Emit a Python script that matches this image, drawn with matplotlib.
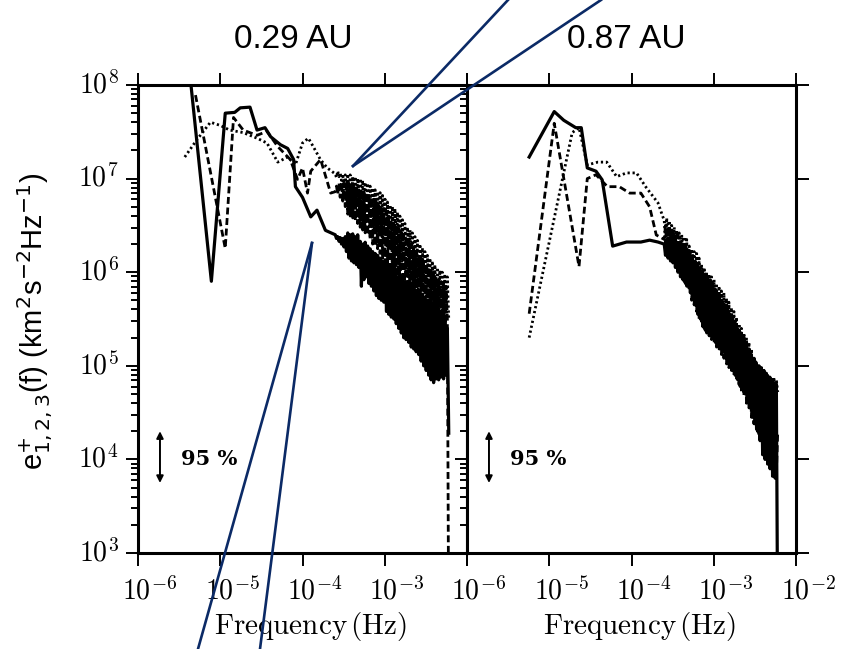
import numpy as np
import matplotlib
matplotlib.use('Agg')
import matplotlib.pyplot as plt
from matplotlib.lines import Line2D
from matplotlib.ticker import LogLocator, NullFormatter
from matplotlib.transforms import ScaledTranslation

plt.rcParams['mathtext.fontset'] = 'cm'

# ---------------- 0.29 AU : low-frequency part (Hz, km^2 s^-2 Hz^-1)
f_sol_29 = [4.2e-6, 7.8e-6, 1.15e-5, 1.5e-5, 1.75e-5, 2.3e-5, 2.8e-5, 3.5e-5, 4.1e-5,
            5.4e-5, 6.6e-5, 7.8e-5, 8.2e-5, 1.0e-4, 1.26e-4, 1.5e-4, 1.9e-4]
E_sol_29 = [1.5e8, 8.0e5, 5.0e7, 5.1e7, 5.7e7, 5.8e7, 3.3e7, 3.5e7, 2.8e7,
            2.3e7, 2.1e7, 1.6e7, 8.2e6, 6.3e6, 3.9e6, 4.6e6, 2.8e6]

f_das_29 = [5.0e-6, 1.15e-5, 1.45e-5, 1.9e-5, 2.8e-5, 3.7e-5, 5.0e-5, 7.1e-5,
            8.7e-5, 1.0e-4, 1.15e-4, 1.26e-4, 1.66e-4, 2.2e-4]
E_das_29 = [7.8e7, 1.8e6, 4.5e7, 3.3e7, 2.9e7, 3.2e7, 2.2e7, 1.6e7,
            9.8e6, 1.3e7, 7.0e6, 1.2e7, 1.6e7, 7.0e6]

f_dot_29 = [3.7e-6, 5.2e-6, 7.6e-6, 1.0e-5, 1.3e-5, 1.9e-5, 2.8e-5, 3.7e-5, 5.0e-5,
            6.6e-5, 8.2e-5, 1.0e-4, 1.18e-4, 1.35e-4, 1.65e-4, 2.0e-4]
E_dot_29 = [1.7e7, 2.6e7, 4.0e7, 3.7e7, 3.3e7, 3.1e7, 2.7e7, 2.4e7, 1.5e7,
            1.7e7, 1.4e7, 2.4e7, 2.7e7, 2.2e7, 1.6e7, 1.3e7]

# ---------------- 0.87 AU : low-frequency part
f_sol_87 = [5.7e-6, 1.15e-5, 1.5e-5, 2.1e-5, 2.45e-5, 2.9e-5, 3.7e-5, 4.4e-5,
            5.9e-5, 8.7e-5, 1.3e-4, 1.66e-4, 2.1e-4]
E_sol_87 = [1.7e7, 5.2e7, 4.2e7, 3.5e7, 3.5e7, 1.3e7, 1.2e7, 9.7e6,
            1.9e6, 2.1e6, 2.1e6, 2.2e6, 2.1e6]

f_das_87 = [5.7e-6, 1.15e-5, 2.3e-5, 2.9e-5, 3.7e-5, 5.1e-5, 7.1e-5, 9.5e-5,
            1.3e-4, 1.66e-4, 2.0e-4]
E_das_87 = [3.6e5, 3.9e7, 1.15e6, 1.0e7, 1.1e7, 8.2e6, 8.2e6, 7.0e6,
            7.0e6, 5.0e6, 2.5e6]

f_dot_87 = [5.7e-6, 1.9e-5, 2.3e-5, 2.9e-5, 3.9e-5, 5.0e-5, 6.6e-5, 8.7e-5,
            1.15e-4, 1.5e-4, 2.1e-4]
E_dot_87 = [2.0e5, 3.1e7, 3.5e7, 1.4e7, 1.5e7, 1.5e7, 1.05e7, 1.15e7,
            1.15e7, 8.1e6, 5.5e6]

# ---------------- high-frequency (noisy) part, shared frequencies
f_hi = [2.50e-4, 2.59e-4, 2.68e-4, 2.78e-4, 2.87e-4, 2.98e-4, 3.08e-4, 3.19e-4, 3.31e-4, 3.42e-4,
        3.55e-4, 3.67e-4, 3.80e-4, 3.94e-4, 4.08e-4, 4.22e-4, 4.37e-4, 4.53e-4, 4.69e-4, 4.85e-4,
        5.03e-4, 5.20e-4, 5.39e-4, 5.58e-4, 5.78e-4, 5.98e-4, 6.20e-4, 6.42e-4, 6.64e-4, 6.88e-4,
        7.12e-4, 7.37e-4, 7.64e-4, 7.91e-4, 8.19e-4, 8.48e-4, 8.78e-4, 9.09e-4, 9.41e-4, 9.75e-4,
        1.01e-3, 1.05e-3, 1.08e-3, 1.12e-3, 1.16e-3, 1.20e-3, 1.24e-3, 1.29e-3, 1.33e-3, 1.38e-3,
        1.43e-3, 1.48e-3, 1.53e-3, 1.59e-3, 1.64e-3, 1.70e-3, 1.76e-3, 1.82e-3, 1.89e-3, 1.96e-3,
        2.03e-3, 2.10e-3, 2.17e-3, 2.25e-3, 2.33e-3, 2.41e-3, 2.50e-3, 2.59e-3, 2.68e-3, 2.77e-3,
        2.87e-3, 2.97e-3, 3.08e-3, 3.19e-3, 3.30e-3, 3.42e-3, 3.54e-3, 3.66e-3, 3.79e-3, 3.93e-3,
        4.07e-3, 4.21e-3, 4.36e-3, 4.52e-3, 4.68e-3, 4.84e-3, 5.01e-3, 5.19e-3, 5.38e-3, 5.57e-3,
        5.77e-3, 6.00e-3]

# log10 of the spectra
hi_sol_29 = [6.40, 6.36, 6.38, 6.33, 6.37, 6.30, 6.36, 6.27, 6.38, 6.22,
             6.42, 6.15, 6.40, 6.12, 6.41, 6.10, 6.38, 6.08, 6.40, 6.05,
             6.33, 5.85, 6.30, 5.92, 6.32, 5.95, 6.28, 5.88, 6.25, 5.85,
             6.22, 5.80, 6.20, 5.75, 6.18, 5.72, 6.15, 5.70, 6.12, 5.68,
             6.10, 5.58, 6.05, 5.55, 6.02, 5.52, 6.00, 5.50, 5.98, 5.45,
             5.95, 5.40, 5.93, 5.35, 5.92, 5.30, 5.90, 5.28, 5.90, 5.25,
             5.88, 5.20, 5.85, 5.18, 5.80, 5.15, 5.78, 5.12, 5.75, 5.05,
             5.72, 5.00, 5.70, 4.95, 5.68, 4.90, 5.66, 4.85, 5.65, 4.82,
             5.62, 4.86, 5.60, 4.85, 5.55, 4.88, 5.52, 4.86, 5.48, 4.90,
             5.40, 4.28]
hi_das_29 = [6.86, 6.92, 6.83, 6.95, 6.80, 6.96, 6.76, 6.95, 6.70, 6.95,
             6.62, 6.95, 6.60, 6.93, 6.58, 6.92, 6.55, 6.90, 6.52, 6.88,
             6.48, 6.88, 6.45, 6.86, 6.42, 6.85, 6.40, 6.82, 6.35, 6.80,
             6.30, 6.78, 6.28, 6.75, 6.25, 6.72, 6.20, 6.70, 6.15, 6.68,
             6.10, 6.65, 6.05, 6.60, 6.00, 6.55, 5.95, 6.52, 5.90, 6.50,
             5.85, 6.47, 5.80, 6.45, 5.78, 6.40, 5.74, 6.38, 5.70, 6.34,
             5.65, 6.30, 5.60, 6.26, 5.58, 6.22, 5.55, 6.18, 5.50, 6.15,
             5.45, 6.12, 5.42, 6.08, 5.38, 6.05, 5.35, 6.02, 5.30, 6.00,
             5.28, 5.95, 5.25, 5.92, 5.22, 5.90, 5.20, 5.88, 5.20, 5.85,
             5.50, 2.00]
hi_dot_29 = [7.05, 7.01, 7.08, 7.02, 7.06, 6.98, 7.05, 6.95, 7.04, 6.90,
             7.05, 6.82, 7.04, 6.78, 7.02, 6.75, 7.02, 6.72, 7.00, 6.70,
             7.00, 6.65, 6.98, 6.62, 6.96, 6.58, 6.95, 6.55, 6.92, 6.52,
             6.90, 6.48, 6.88, 6.45, 6.86, 6.42, 6.85, 6.40, 6.82, 6.38,
             6.78, 6.33, 6.75, 6.30, 6.72, 6.25, 6.70, 6.22, 6.68, 6.18,
             6.64, 6.15, 6.60, 6.10, 6.56, 6.08, 6.52, 6.04, 6.48, 6.00,
             6.45, 5.95, 6.42, 5.92, 6.38, 5.88, 6.34, 5.85, 6.30, 5.82,
             6.26, 5.78, 6.22, 5.74, 6.18, 5.70, 6.15, 5.66, 6.12, 5.62,
             6.08, 5.58, 6.05, 5.55, 6.02, 5.52, 6.00, 5.50, 5.98, 5.52,
             5.95, 5.50]

hi_sol_87 = [6.30, 6.18, 6.35, 6.15, 6.33, 6.12, 6.35, 6.10, 6.30, 6.05,
             6.32, 6.00, 6.30, 5.95, 6.28, 5.92, 6.25, 5.88, 6.22, 5.85,
             6.20, 5.78, 6.15, 5.72, 6.10, 5.65, 6.08, 5.55, 6.02, 5.50,
             5.98, 5.42, 5.95, 5.38, 5.92, 5.35, 5.88, 5.32, 5.85, 5.30,
             5.82, 5.25, 5.78, 5.22, 5.75, 5.18, 5.70, 5.15, 5.65, 5.10,
             5.60, 5.05, 5.55, 5.00, 5.50, 4.95, 5.45, 4.90, 5.42, 4.85,
             5.38, 4.78, 5.35, 4.75, 5.30, 4.70, 5.25, 4.62, 5.18, 4.55,
             5.12, 4.45, 5.08, 4.38, 5.02, 4.30, 5.00, 4.20, 4.98, 4.05,
             4.95, 4.00, 4.92, 3.95, 4.88, 3.90, 4.85, 3.82, 4.82, 3.80,
             4.80, 2.00]
hi_das_87 = [6.35, 6.50, 6.25, 6.48, 6.20, 6.45, 6.15, 6.45, 6.10, 6.42,
             6.05, 6.40, 6.00, 6.35, 5.95, 6.30, 5.90, 6.28, 5.85, 6.25,
             5.80, 6.22, 5.70, 6.18, 5.65, 6.12, 5.58, 6.08, 5.50, 6.05,
             5.45, 6.02, 5.40, 5.98, 5.35, 5.95, 5.32, 5.92, 5.28, 5.88,
             5.25, 5.82, 5.20, 5.78, 5.18, 5.72, 5.12, 5.68, 5.08, 5.65,
             5.02, 5.62, 4.98, 5.55, 4.95, 5.52, 4.90, 5.48, 4.85, 5.42,
             4.80, 5.35, 4.72, 5.32, 4.68, 5.25, 4.60, 5.20, 4.55, 5.15,
             4.45, 5.10, 4.38, 5.05, 4.30, 5.00, 4.25, 4.98, 4.20, 4.95,
             4.05, 4.92, 4.00, 4.90, 3.95, 4.88, 3.90, 4.85, 3.88, 4.82,
             3.85, 4.30]
hi_dot_87 = [6.55, 6.30, 6.58, 6.25, 6.55, 6.22, 6.50, 6.20, 6.48, 6.18,
             6.45, 6.15, 6.42, 6.10, 6.40, 6.05, 6.38, 6.00, 6.35, 5.95,
             6.28, 5.90, 6.25, 5.85, 6.22, 5.78, 6.20, 5.70, 6.15, 5.65,
             6.08, 5.58, 6.05, 5.52, 6.00, 5.45, 5.98, 5.42, 5.95, 5.38,
             5.92, 5.32, 5.88, 5.30, 5.85, 5.25, 5.80, 5.20, 5.78, 5.15,
             5.72, 5.10, 5.68, 5.05, 5.62, 5.00, 5.58, 4.95, 5.52, 4.90,
             5.45, 4.85, 5.40, 4.80, 5.35, 4.72, 5.30, 4.65, 5.25, 4.58,
             5.18, 4.50, 5.10, 4.40, 5.05, 4.32, 5.02, 4.22, 4.98, 4.15,
             4.95, 4.05, 4.92, 4.00, 4.90, 3.95, 4.88, 3.92, 4.88, 3.90,
             4.85, 4.72]

titles = ['0.29 AU', '0.87 AU']
xticks = [1e-6, 1e-5, 1e-4, 1e-3, 1e-2]
yticks = [1e3, 1e4, 1e5, 1e6, 1e7, 1e8]


def join(f_lo, e_lo, lg_hi):
    f = np.array(f_lo + f_hi)
    e = np.concatenate([np.array(e_lo), 10.0 ** np.array(lg_hi)])
    return f, e


W, H = 846, 649
fig = plt.figure(figsize=(W / 100, H / 100), dpi=100)
axL = fig.add_axes([138 / W, 1 - 553 / H, 329 / W, 468 / H])
axR = fig.add_axes([467 / W, 1 - 553 / H, 329 / W, 468 / H])

panels = [
    (axL, [(f_sol_29, E_sol_29, hi_sol_29), (f_das_29, E_das_29, hi_das_29), (f_dot_29, E_dot_29, hi_dot_29)]),
    (axR, [(f_sol_87, E_sol_87, hi_sol_87), (f_das_87, E_das_87, hi_das_87), (f_dot_87, E_dot_87, hi_dot_87)]),
]
styles = [dict(ls='-', lw=2.3), dict(ls=(0, (2.5, 1.3)), lw=2.0), dict(ls=(0, (0.8, 1.0)), lw=2.0)]

for ax, series in panels:
    for (flo, elo, hi), st in zip(series[::-1], styles[::-1]):
        f, e = join(flo, elo, hi)
        ax.plot(f, e, color='black', **st)
    ax.set_xscale('log')
    ax.set_yscale('log')
    ax.set_xlim(1e-6, 1e-2)
    ax.set_ylim(1e3, 1e8)
    for s in ax.spines.values():
        s.set_linewidth(2.2)

xlabs = [r'$10^{%d}$' % int(np.log10(v)) for v in xticks]
axL.set_xticks(xticks, labels=xlabs[:-1] + [''])
axR.set_xticks(xticks, labels=xlabs)
axL.set_yticks(yticks, labels=[r'$10^{%d}$' % int(np.log10(v)) for v in yticks])
axR.set_yticks(yticks, labels=[''] * len(yticks))

for ax in (axL, axR):
    ax.xaxis.set_minor_locator(LogLocator(base=10, subs=np.arange(2, 10)))
    ax.yaxis.set_minor_locator(LogLocator(base=10, subs=np.arange(2, 10)))
    ax.xaxis.set_minor_formatter(NullFormatter())
    ax.yaxis.set_minor_formatter(NullFormatter())
    ax.tick_params(which='both', direction='out', top=True, bottom=True, width=1.4,
                   labelsize=20)
    ax.tick_params(which='major', length=9)
    ax.tick_params(which='minor', length=5)
    ax.tick_params(axis='x', pad=8)
    ax.set_xlabel(r'$\mathrm{Frequency\,(Hz)}$', fontsize=21, labelpad=0)
    ax.xaxis.set_label_coords(0.525, -0.122)
    ax.annotate('', xy=(1.85e-6, 5.6e3), xytext=(1.85e-6, 2.0e4),
                arrowprops=dict(arrowstyle='<|-|>', lw=1.4, color='black',
                                mutation_scale=10, shrinkA=0, shrinkB=0))
    ax.text(3.3e-6, 1.0e4, '95 %', fontsize=15, family='DejaVu Serif',
            fontweight='bold', ha='left', va='center')

axL.tick_params(axis='y', left=True, right=False, pad=5)
axR.tick_params(axis='y', left=True, right=True, labelleft=False)

# shift tick labels like the original (the "10" sits over the tick)
dx = ScaledTranslation(12 / 100, 0, fig.dpi_scale_trans)
dy = ScaledTranslation(0, 3 / 100, fig.dpi_scale_trans)
for ax in (axL, axR):
    for lab in ax.get_xticklabels():
        lab.set_transform(lab.get_transform() + dx)
for lab in axL.get_yticklabels():
    lab.set_transform(lab.get_transform() + dy)

fig.text(293 / W, 1 - 40 / H, titles[0], fontsize=24, family='Liberation Sans',
         ha='center', va='center')
fig.text(626 / W, 1 - 40 / H, titles[1], fontsize=24, family='Liberation Sans',
         ha='center', va='center')

fig.text(35 / W, 1 - 321 / H, r'e$^{+}_{1,2,3}$(f) (km$^{2}$s$^{-2}$Hz$^{-1}$)',
         fontsize=21, family='Liberation Sans', math_fontfamily='dejavusans',
         rotation=90, ha='center', va='center')

# navy callout lines over the figure
navy = '#0b2a66'
callouts = [((508, 0), (353, 166)), ((601, 0), (353, 166)),
            ((198, 649), (312, 243)), ((260, 649), (312, 243))]
for (x0, y0), (x1, y1) in callouts:
    fig.add_artist(Line2D([x0 / W, x1 / W], [1 - y0 / H, 1 - y1 / H],
                          transform=fig.transFigure, color=navy, lw=1.9))

fig.savefig('out.png', dpi=100)
